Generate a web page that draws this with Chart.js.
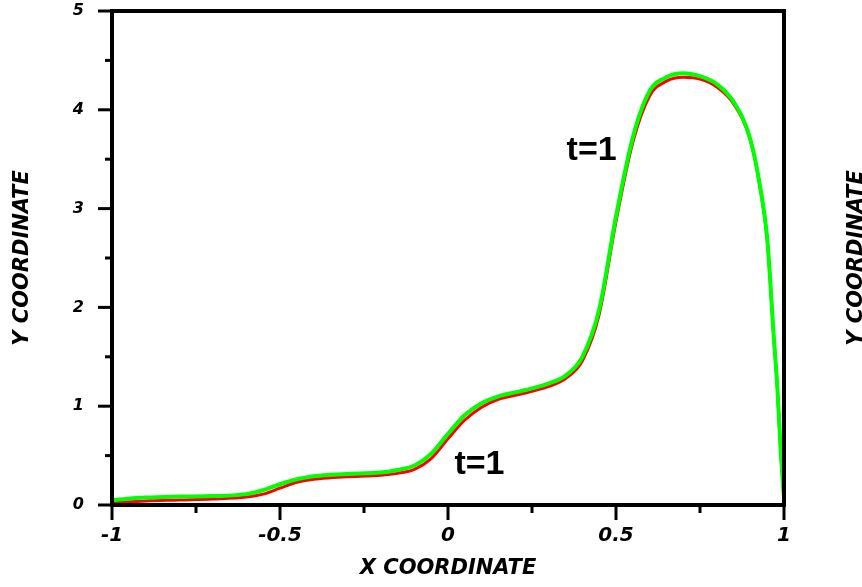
<!DOCTYPE html>
<html>
<head>
<meta charset="utf-8">
<script src="https://cdn.jsdelivr.net/npm/chart.js@4/dist/chart.umd.min.js"></script>
<style>
  html, body { margin: 0; padding: 0; background: #fff; }
  #wrap { width: 862px; height: 587px; position: relative; }
</style>
</head>
<body>
<div id="wrap"><canvas id="c" width="862" height="587"></canvas></div>
<script>
// ---- data ----
const xValues = [-1, -0.9, -0.8, -0.7, -0.6, -0.55, -0.5, -0.45, -0.4, -0.35, -0.3, -0.2, -0.15, -0.1, -0.05,
  0, 0.05, 0.1, 0.15, 0.2, 0.25, 0.3, 0.35, 0.4, 0.45, 0.5, 0.55, 0.6, 0.65, 0.7, 0.75, 0.8, 0.85, 0.9,
  0.93, 0.95, 0.97, 0.98, 0.99, 1.0];
const greenY = [0.05, 0.075, 0.085, 0.09, 0.11, 0.15, 0.21, 0.26, 0.29, 0.305, 0.315, 0.33, 0.355, 0.40, 0.52,
  0.72, 0.91, 1.03, 1.10, 1.14, 1.18, 1.23, 1.31, 1.50, 1.98, 2.92, 3.72, 4.19, 4.33, 4.37, 4.34, 4.26, 4.08, 3.70,
  3.20, 2.70, 1.68, 1.20, 0.57, 0.08];
const redY = [0.02, 0.04, 0.05, 0.06, 0.08, 0.11, 0.17, 0.23, 0.26, 0.275, 0.285, 0.30, 0.32, 0.36, 0.47,
  0.67, 0.86, 0.99, 1.07, 1.11, 1.15, 1.20, 1.28, 1.46, 1.93, 2.87, 3.67, 4.14, 4.29, 4.33, 4.31, 4.23, 4.06, 3.69,
  3.19, 2.69, 1.68, 1.20, 0.55, 0.05];
const xMajorTicks = [-1, -0.5, 0, 0.5, 1];
const xTickLabels = ['-1', '-0.5', '0', '0.5', '1'];
const yMajorTicks = [0, 1, 2, 3, 4, 5];
const yTickLabels = ['0', '1', '2', '3', '4', '5'];
const xTitle = 'X COORDINATE';
const yTitle = 'Y COORDINATE';
const curveLabels = [
  { text: 't=1', x: 0.353, y: 3.49 },
  { text: 't=1', x: 0.019, y: 0.314 }
];

// ---- layout constants ----
const AREA = { left: 112, right: 784, top: 11, bottom: 505 };
const W = 862, H = 587;
const AXFONT = 'DejaVu Sans';

function pts(ys) { return xValues.map((x, i) => ({ x: x, y: ys[i] })); }
function near(a, b) { return Math.abs(a - b) < 1e-9; }

const framePlugin = {
  id: 'framePlugin',
  beforeDraw(chart) {
    const ctx = chart.ctx;
    ctx.save();
    ctx.fillStyle = '#fff';
    ctx.fillRect(0, 0, chart.width, chart.height);
    ctx.restore();
  },
  afterDraw(chart) {
    const ctx = chart.ctx;
    const ca = chart.chartArea;
    const xs = chart.scales.x, ys = chart.scales.y;
    ctx.save();
    ctx.strokeStyle = '#000';
    ctx.lineWidth = 4;
    ctx.lineCap = 'square';
    ctx.strokeRect(ca.left, ca.top, ca.right - ca.left, ca.bottom - ca.top);
    ctx.lineCap = 'butt';
    ctx.lineWidth = 3;
    xs.ticks.forEach(t => {
      const px = xs.getPixelForValue(t.value);
      const major = xMajorTicks.some(v => near(v, t.value));
      ctx.beginPath();
      ctx.moveTo(px, ca.bottom);
      ctx.lineTo(px, ca.bottom + (major ? 15 : 8));
      ctx.stroke();
    });
    ys.ticks.forEach(t => {
      const py = ys.getPixelForValue(t.value);
      const major = yMajorTicks.some(v => near(v, t.value));
      ctx.beginPath();
      ctx.moveTo(ca.left, py);
      ctx.lineTo(ca.left - (major ? 14 : 7), py);
      ctx.stroke();
    });
    ctx.fillStyle = '#000';
    ctx.font = 'bold 34px "Liberation Sans", Arial, sans-serif';
    ctx.textAlign = 'left';
    ctx.textBaseline = 'alphabetic';
    curveLabels.forEach(l => {
      ctx.fillText(l.text, xs.getPixelForValue(l.x), ys.getPixelForValue(l.y));
    });
    // neighbouring panel's axis title, cut by the right edge
    ctx.font = 'italic bold 21px "' + AXFONT + '"';
    ctx.translate(857, (ca.top + ca.bottom) / 2);
    ctx.rotate(-Math.PI / 2);
    ctx.textAlign = 'center';
    ctx.textBaseline = 'middle';
    ctx.fillText(yTitle, 0, 0);
    ctx.restore();
  }
};

const pad = { left: 0, top: AREA.top, right: W - AREA.right, bottom: 0 };

const chart = new Chart(document.getElementById('c'), {
  type: 'line',
  data: {
    datasets: [
      { label: 'green', data: pts(greenY), borderColor: '#00ff00', borderWidth: 4, pointRadius: 0,
        fill: false, cubicInterpolationMode: 'monotone' },
      { label: 'red', data: pts(redY), borderColor: '#ff0000', borderWidth: 3, pointRadius: 0,
        fill: false, cubicInterpolationMode: 'monotone' }
    ]
  },
  options: {
    responsive: false,
    animation: false,
    events: [],
    layout: { padding: pad },
    plugins: { legend: { display: false }, tooltip: { enabled: false } },
    scales: {
      x: {
        type: 'linear', min: -1, max: 1,
        grid: { display: false, drawTicks: false },
        border: { display: false },
        ticks: {
          stepSize: 0.25, autoSkip: false, maxRotation: 0, padding: 19, color: '#000',
          font: { family: AXFONT, size: 20, weight: 'bold', style: 'italic' },
          callback: v => { const i = xMajorTicks.findIndex(m => near(m, v)); return i >= 0 ? xTickLabels[i] : ''; }
        },
        title: {
          display: true, text: xTitle, color: '#000',
          font: { family: AXFONT, size: 21, weight: 'bold', style: 'italic' },
          padding: { top: 0, bottom: 6 }
        },
        afterFit: s => { s.height = H - AREA.bottom; s.paddingLeft = 0; s.paddingRight = 0; }
      },
      y: {
        type: 'linear', min: 0, max: 5,
        grid: { display: false, drawTicks: false },
        border: { display: false },
        ticks: {
          stepSize: 0.5, autoSkip: false, padding: 28, color: '#000',
          font: { family: AXFONT, size: 16, weight: 'bold', style: 'italic' },
          callback: v => { const i = yMajorTicks.findIndex(m => near(m, v)); return i >= 0 ? yTickLabels[i] : ''; }
        },
        title: {
          display: true, text: yTitle, color: '#000',
          font: { family: AXFONT, size: 21, weight: 'bold', style: 'italic' },
          padding: { top: 10, bottom: 0 }
        },
        afterFit: s => { s.width = AREA.left; s.paddingTop = 0; s.paddingBottom = 0; }
      }
    }
  },
  plugins: [framePlugin]
});

// correct any remaining offset of the plot area so it sits where the reference has it
(function fixArea() {
  const ca = chart.chartArea;
  const dt = ca.top - AREA.top, db = AREA.bottom - ca.bottom;
  const dl = ca.left - AREA.left, dr = AREA.right - ca.right;
  if (Math.abs(dt) > 0.5 || Math.abs(db) > 0.5 || Math.abs(dl) > 0.5 || Math.abs(dr) > 0.5) {
    pad.top -= dt; pad.bottom -= db; pad.left -= dl; pad.right -= dr;
    chart.options.layout.padding = pad;
    chart.update();
  }
})();
</script>
</body>
</html>
